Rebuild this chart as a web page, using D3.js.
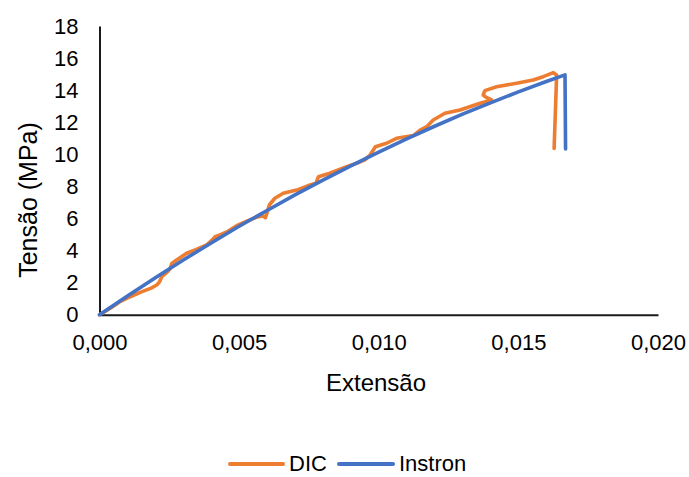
<!DOCTYPE html>
<html>
<head>
<meta charset="utf-8">
<script src="https://cdn.jsdelivr.net/npm/d3@7"></script>
<style>
  html, body { margin: 0; padding: 0; background: #fff; }
  svg { display: block; font-family: "Liberation Sans", Arial, sans-serif; }
</style>
</head>
<body>
<svg id="chart" width="689" height="477"></svg>
<script>
// Stress–strain data: DIC (digital image correlation) and Instron load cell
const dicStrain = [0, 0.00040, 0.00073, 0.00110, 0.00150, 0.00185, 0.00205, 0.00215, 0.00223, 0.00240,
  0.00252, 0.00259, 0.00275, 0.00312, 0.00345, 0.00384, 0.00400, 0.00414, 0.00431, 0.00460,
  0.00491, 0.00530, 0.00565, 0.00585, 0.00594, 0.00600, 0.00608, 0.00628, 0.00658, 0.00706,
  0.00754, 0.00775, 0.00784, 0.00825, 0.00885, 0.00921, 0.00950, 0.00969, 0.00988, 0.01028,
  0.01064, 0.01124, 0.01148, 0.01172, 0.01195, 0.01237, 0.01291, 0.01363, 0.01404, 0.01385,
  0.01374, 0.01380, 0.01422, 0.01494, 0.01553, 0.01589, 0.01625, 0.01637, 0.01628];
const dicStress = [0, 0.42, 0.81, 1.12, 1.42, 1.66, 1.85, 2.05, 2.37, 2.62,
  2.85, 3.20, 3.40, 3.83, 4.05, 4.35, 4.60, 4.86, 4.97, 5.20,
  5.55, 5.85, 6.10, 6.15, 6.05, 6.35, 6.84, 7.26, 7.57, 7.77,
  8.09, 8.20, 8.60, 8.82, 9.23, 9.44, 9.65, 9.96, 10.47, 10.69,
  11.00, 11.17, 11.51, 11.72, 12.14, 12.56, 12.76, 13.18, 13.39, 13.55,
  13.70, 13.97, 14.21, 14.43, 14.63, 14.84, 15.09, 14.94, 10.37];

const instronStrain = [0, 0.001, 0.002, 0.003, 0.004, 0.005, 0.006, 0.007, 0.008, 0.009,
  0.010, 0.011, 0.012, 0.013, 0.014, 0.015, 0.016, 0.01667, 0.01669];
const instronStress = [0, 1.17, 2.31, 3.41, 4.47, 5.51, 6.50, 7.47, 8.39, 9.28,
  10.14, 10.96, 11.75, 12.50, 13.21, 13.89, 14.54, 14.95, 10.33];

const seriesNames = ["DIC", "Instron"];
const seriesColors = ["#ED7D31", "#4472C4"];

const xTicks = [0, 0.005, 0.010, 0.015, 0.020];
const xTickLabels = ["0,000", "0,005", "0,010", "0,015", "0,020"];
const yTicks = [0, 2, 4, 6, 8, 10, 12, 14, 16, 18];
const yTickLabels = ["0", "2", "4", "6", "8", "10", "12", "14", "16", "18"];

const xTitle = "Extensão";
const yTitle = "Tensão (MPa)";

const svg = d3.select("#chart");
svg.append("rect").attr("width", 689).attr("height", 477).attr("fill", "#fff");

const plot = { left: 99.5, right: 658, top: 26, bottom: 314.7 };

const x = d3.scaleLinear().domain([0, 0.020]).range([plot.left, plot.right]);
const y = d3.scaleLinear().domain([0, 18]).range([plot.bottom, plot.top]);

// Axes
const xAxis = d3.axisBottom(x)
  .tickValues(xTicks)
  .tickFormat((d, i) => xTickLabels[i])
  .tickSize(0).tickSizeOuter(0).tickPadding(20);
const yAxis = d3.axisLeft(y)
  .tickValues(yTicks)
  .tickFormat((d, i) => yTickLabels[i])
  .tickSize(0).tickSizeOuter(0).tickPadding(21);

const gx = svg.append("g").attr("transform", `translate(0,${plot.bottom})`).call(xAxis);
const gy = svg.append("g").attr("transform", `translate(${plot.left},0)`).call(yAxis);

[gx, gy].forEach(g => {
  g.select(".domain").attr("stroke", "#1a1a1a").attr("stroke-width", 2);
  g.selectAll("text").attr("fill", "#000").style("font-size", "22px")
    .style("font-family", '"Liberation Sans", Arial, sans-serif');
});

// Axis titles
svg.append("text")
  .attr("x", 376).attr("y", 391)
  .attr("text-anchor", "middle")
  .style("font-size", "24px").attr("fill", "#000")
  .text(xTitle);

svg.append("text")
  .attr("transform", "translate(37,200) rotate(-90)")
  .attr("text-anchor", "middle")
  .style("font-size", "25px").attr("fill", "#000")
  .text(yTitle);

// Curves
const line = d3.line().x(d => x(d[0])).y(d => y(d[1]));
const dicData = dicStrain.map((s, i) => [s, dicStress[i]]);
const instronData = instronStrain.map((s, i) => [s, instronStress[i]]);

[dicData, instronData].forEach((data, i) => {
  svg.append("path")
    .datum(data)
    .attr("d", line)
    .attr("fill", "none")
    .attr("stroke", seriesColors[i])
    .attr("stroke-width", 3.6)
    .attr("stroke-linejoin", "round")
    .attr("stroke-linecap", "round");
});

// Legend
const legendItems = [
  { x1: 230, x2: 283, tx: 289 },
  { x1: 339, x2: 393, tx: 399 }
];
legendItems.forEach((it, i) => {
  svg.append("line")
    .attr("x1", it.x1).attr("x2", it.x2)
    .attr("y1", 464).attr("y2", 464)
    .attr("stroke", seriesColors[i]).attr("stroke-width", 4)
    .attr("stroke-linecap", "round");
  svg.append("text")
    .attr("x", it.tx).attr("y", 471)
    .style("font-size", "22px").attr("fill", "#000")
    .text(seriesNames[i]);
});
</script>
</body>
</html>
